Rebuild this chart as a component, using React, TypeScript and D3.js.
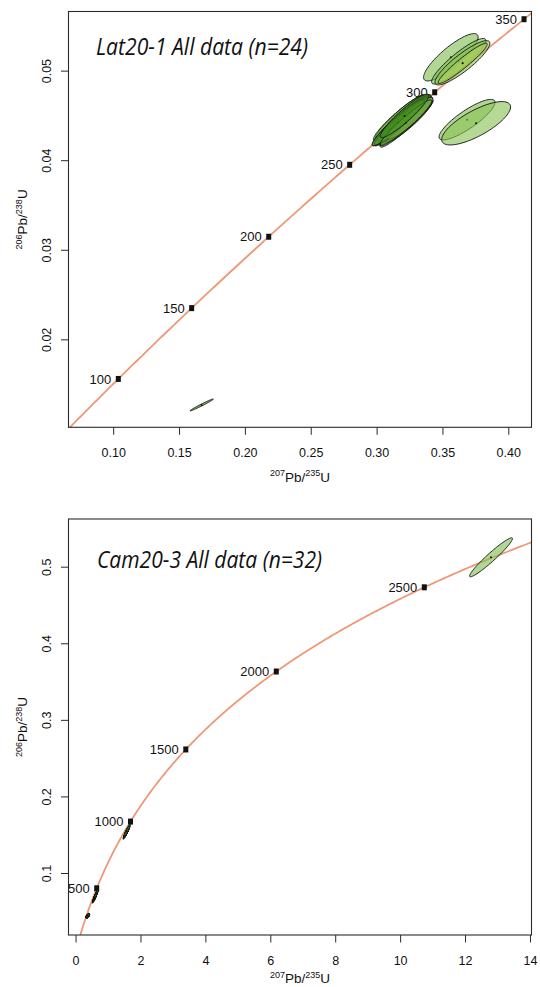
import React from 'react';
import * as d3 from 'd3';

const L238 = 1.55125e-10;
const L235 = 9.8485e-10;

// ---------- Top panel (Lat20-1) ----------
const topTitle = 'Lat20-1 All data (n=24)';
const topAges = [100, 150, 200, 250, 300, 350];
const topXTicks = [0.1, 0.15, 0.2, 0.25, 0.3, 0.35, 0.4];
const topYTicks = [0.02, 0.03, 0.04, 0.05];
const topX = [0.3200, 0.3178, 0.3225, 0.3190, 0.3215, 0.3165, 0.3238, 0.3205, 0.3185, 0.3230, 0.3172, 0.3212, 0.3195, 0.3248, 0.3160, 0.3220, 0.3208,
  0.3560, 0.3620, 0.3648, 0.3650, 0.3683, 0.3752, 0.1668];
const topY = [0.04450, 0.04490, 0.04415, 0.04470, 0.04440, 0.04475, 0.04445, 0.04480, 0.04430, 0.04470, 0.04440, 0.04462, 0.04455, 0.04475, 0.04425, 0.04425, 0.04500,
  0.05155, 0.05110, 0.05093, 0.05087, 0.04458, 0.04418, 0.01273];
const topSX = [0.0080, 0.0078, 0.0082, 0.0076, 0.0084, 0.0079, 0.0074, 0.0081, 0.0083, 0.0077, 0.0085, 0.0079, 0.0088, 0.0072, 0.0081, 0.0080, 0.0075,
  0.00847, 0.00843, 0.00852, 0.00760, 0.00868, 0.01069, 0.00363];
const topSY = [0.00105, 0.00102, 0.00108, 0.00100, 0.00110, 0.00103, 0.00097, 0.00106, 0.00108, 0.00101, 0.00111, 0.00104, 0.00114, 0.00095, 0.00106, 0.00104, 0.00099,
  0.00108, 0.00104, 0.00101, 0.00092, 0.000925, 0.000989, 0.000273];
const topRho = [0.95, 0.94, 0.96, 0.93, 0.95, 0.94, 0.92, 0.95, 0.96, 0.93, 0.95, 0.94, 0.96, 0.91, 0.95, 0.95, 0.93,
  0.85, 0.90, 0.88, 0.95, 0.85, 0.75, 0.985];
const topLevel = [0.9, 0.8, 1.0, 0.15, 0.85, 0.7, 0.9, 0.95, 0.1, 0.75, 0.8, 1.0, 0.85, 0.2, 0.9, 0.7, 0.95,
  0.45, 0.5, 0.4, 0.15, 0.45, 0.4, 0.95];

// ---------- Bottom panel (Cam20-3) ----------
const botTitle = 'Cam20-3 All data (n=32)';
const botAges = [500, 1000, 1500, 2000, 2500];
const botXTicks = [0, 2, 4, 6, 8, 10, 12, 14];
const botYTicks = [0.1, 0.2, 0.3, 0.4, 0.5];
const botX = [12.785,
  1.520, 1.530, 1.542, 1.550, 1.558, 1.565, 1.572, 1.580, 1.590, 1.600, 1.560,
  0.560, 0.566, 0.572, 0.578, 0.584, 0.590, 0.596, 0.602, 0.610, 0.618, 0.625, 0.630,
  0.352, 0.356, 0.360, 0.364, 0.358, 0.355, 0.362, 0.359];
const botY = [0.5129,
  0.1510, 0.1518, 0.1528, 0.1535, 0.1542, 0.1548, 0.1555, 0.1562, 0.1570, 0.1580, 0.1550,
  0.0670, 0.0676, 0.0682, 0.0688, 0.0694, 0.0700, 0.0706, 0.0712, 0.0720, 0.0728, 0.0735, 0.0740,
  0.0440, 0.0444, 0.0448, 0.0452, 0.0446, 0.0442, 0.0450, 0.0445];
const botSX = [0.270,
  0.030, 0.028, 0.032, 0.029, 0.031, 0.030, 0.027, 0.033, 0.029, 0.030, 0.035,
  0.025, 0.024, 0.026, 0.023, 0.025, 0.027, 0.024, 0.026, 0.025, 0.023, 0.024, 0.025,
  0.022, 0.020, 0.024, 0.021, 0.023, 0.020, 0.022, 0.021];
const botSY = [0.0104,
  0.0026, 0.0025, 0.0027, 0.0026, 0.0028, 0.0026, 0.0024, 0.0028, 0.0025, 0.0026, 0.0030,
  0.0024, 0.0023, 0.0025, 0.0022, 0.0024, 0.0026, 0.0023, 0.0025, 0.0024, 0.0022, 0.0023, 0.0024,
  0.0011, 0.0010, 0.0012, 0.0011, 0.0012, 0.0010, 0.0011, 0.0011];
const botRho = [0.96,
  0.90, 0.90, 0.91, 0.89, 0.90, 0.92, 0.90, 0.91, 0.90, 0.89, 0.90,
  0.90, 0.91, 0.90, 0.89, 0.90, 0.92, 0.90, 0.91, 0.90, 0.89, 0.90, 0.90,
  0.60, 0.55, 0.62, 0.58, 0.60, 0.57, 0.61, 0.59];
const botLevel = [0.45,
  0.9, 0.9, 0.9, 0.9, 0.9, 0.9, 0.9, 0.9, 0.9, 0.9, 0.9,
  0.9, 0.9, 0.9, 0.9, 0.9, 0.9, 0.9, 0.9, 0.9, 0.9, 0.9, 0.9,
  0.9, 0.9, 0.9, 0.9, 0.9, 0.9, 0.9, 0.9];

const colorScale = d3.scaleLinear<string>()
  .domain([0, 0.5, 1])
  .range(['#bcd45a', '#7cbd52', '#3a8818']);

function concordia(t: number) {
  return [Math.exp(L235 * t * 1e6) - 1, Math.exp(L238 * t * 1e6) - 1];
}

function ellipsePath(cx: number, cy: number, sx: number, sy: number, rho: number, xs: any, ys: any) {
  const k = 2.4477;
  const pts: [number, number][] = d3.range(0, 97).map((i) => {
    const th = (i / 96) * 2 * Math.PI;
    const dx = k * sx * Math.cos(th);
    const dy = k * sy * (rho * Math.cos(th) + Math.sqrt(1 - rho * rho) * Math.sin(th));
    return [xs(cx + dx), ys(cy + dy)];
  });
  return (d3.line()(pts) || '') + 'Z';
}

type PanelProps = {
  id: string;
  left: number; right: number; top: number; bottom: number;
  xDomain: [number, number]; yDomain: [number, number];
  xTicks: number[]; yTicks: number[];
  xFmt: (v: number) => string; yFmt: (v: number) => string;
  ages: number[]; tMax: number;
  xs: number[]; ys: number[]; sxs: number[]; sys: number[]; rhos: number[]; levels: number[];
  title: string; titleX: number; titleY: number; titleLen: number; xLabelDy: number;
};

function Panel(p: PanelProps) {
  const xs = d3.scaleLinear().domain(p.xDomain).range([p.left, p.right]);
  const ys = d3.scaleLinear().domain(p.yDomain).range([p.bottom, p.top]);
  const curve = d3.range(0, p.tMax, p.tMax / 600).map((t) => {
    const c = concordia(t);
    return [xs(c[0]), ys(c[1])] as [number, number];
  });
  const line = d3.line()(curve) || '';
  const axisCol = '#2a2a2a';
  const cy = (p.top + p.bottom) / 2;
  const cx = (p.left + p.right) / 2;
  return (
    <g>
      <defs>
        <clipPath id={p.id}>
          <rect x={p.left} y={p.top} width={p.right - p.left} height={p.bottom - p.top} />
        </clipPath>
      </defs>
      <g clipPath={`url(#${p.id})`}>
        <path d={line} fill="none" stroke="#ef9877" strokeWidth={1.8} />
        {p.ages.map((a) => {
          const c = concordia(a);
          const px = xs(c[0]);
          const py = ys(c[1]);
          return (
            <g key={a}>
              <rect x={px - 2.5} y={py - 3} width={5} height={6} fill="#111" />
              <text x={px - 7} y={py + 4.6} textAnchor="end" fontSize={13}
                fontFamily="'Liberation Sans', Arial, sans-serif" fill="#111">{a}</text>
            </g>
          );
        })}
        {p.xs.map((x, i) => (
          <g key={i}>
            <path d={ellipsePath(x, p.ys[i], p.sxs[i], p.sys[i], p.rhos[i], xs, ys)}
              fill={colorScale(p.levels[i])} fillOpacity={0.62} stroke="#111" strokeWidth={0.9} />
            <circle cx={xs(x)} cy={ys(p.ys[i])} r={1} fill="#111" />
          </g>
        ))}
      </g>
      <rect x={p.left} y={p.top} width={p.right - p.left} height={p.bottom - p.top}
        fill="none" stroke={axisCol} strokeWidth={1.1} />
      {p.xTicks.map((t) => (
        <g key={'x' + t}>
          <line x1={xs(t)} x2={xs(t)} y1={p.bottom} y2={p.bottom + 7.5} stroke={axisCol} strokeWidth={1} />
          <text x={xs(t)} y={p.bottom + 30} textAnchor="middle" fontSize={12.5}
            fontFamily="'Liberation Sans', Arial, sans-serif" fill="#111">{p.xFmt(t)}</text>
        </g>
      ))}
      {p.yTicks.map((t) => (
        <g key={'y' + t}>
          <line x1={p.left - 7.5} x2={p.left} y1={ys(t)} y2={ys(t)} stroke={axisCol} strokeWidth={1} />
          <text transform={`translate(${p.left - 17.5},${ys(t)}) rotate(-90)`} textAnchor="middle" fontSize={12.5}
            fontFamily="'Liberation Sans', Arial, sans-serif" fill="#111">{p.yFmt(t)}</text>
        </g>
      ))}
      <text x={cx} y={p.bottom + p.xLabelDy} textAnchor="middle" fontSize={13.5}
        fontFamily="'Liberation Sans', Arial, sans-serif" fill="#111">
        <tspan fontSize={9} dy={-5.5}>207</tspan><tspan dy={5.5}>Pb/</tspan>
        <tspan fontSize={9} dy={-5.5}>235</tspan><tspan dy={5.5}>U</tspan>
      </text>
      <text transform={`translate(27,${cy}) rotate(-90)`} textAnchor="middle" fontSize={13.5}
        fontFamily="'Liberation Sans', Arial, sans-serif" fill="#111">
        <tspan fontSize={9} dy={-5.5}>206</tspan><tspan dy={5.5}>Pb/</tspan>
        <tspan fontSize={9} dy={-5.5}>238</tspan><tspan dy={5.5}>U</tspan>
      </text>
      <text x={p.titleX} y={p.titleY} fontSize={23} fontStyle="italic"
        fontFamily="'Open Sans', 'Noto Sans', sans-serif" fill="#111"
        textLength={p.titleLen} lengthAdjust="spacingAndGlyphs">{p.title}</text>
    </g>
  );
}

export default function App() {
  return (
    <svg width={540} height={987} style={{ position: 'absolute', left: 0, top: 0, background: '#fff' }}>
      <rect x={0} y={0} width={540} height={987} fill="#fff" />
      <Panel id="clipTop" left={68.5} right={531.5} top={11.5} bottom={427.3}
        xDomain={[0.06568, 0.41724]} yDomain={[0.010235, 0.056657]}
        xTicks={topXTicks} yTicks={topYTicks}
        xFmt={d3.format('.2f')} yFmt={d3.format('.2f')}
        ages={topAges} tMax={420}
        xs={topX} ys={topY} sxs={topSX} sys={topSY} rhos={topRho} levels={topLevel}
        title={topTitle} titleX={96} titleY={55} titleLen={212} xLabelDy={54.5} />
      <Panel id="clipBot" left={68.5} right={531.5} top={519} bottom={935}
        xDomain={[-0.2326, 14.032]} yDomain={[0.01968, 0.56295]}
        xTicks={botXTicks} yTicks={botYTicks}
        xFmt={d3.format('d')} yFmt={d3.format('.1f')}
        ages={botAges} tMax={3200}
        xs={botX} ys={botY} sxs={botSX} sys={botSY} rhos={botRho} levels={botLevel}
        title={botTitle} titleX={97} titleY={568} titleLen={225} xLabelDy={48} />
    </svg>
  );
}
